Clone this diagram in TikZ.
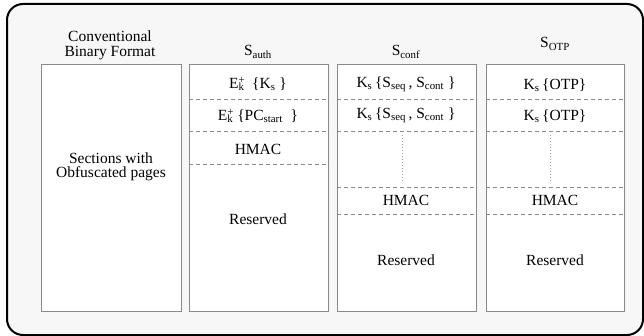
\documentclass[tikz,border=0pt]{standalone}
\usepackage{fontspec}
\setmainfont{Liberation Serif}[Ligatures=TeX]
\newfontfamily\labelface{Liberation Serif}
% E with stacked superscript + and subscript k
\newcommand{\encK}{E\rlap{\textsuperscript{+}}\textsubscript{k}}
\definecolor{framefill}{HTML}{F7F7F7}
\definecolor{boxline}{HTML}{8A8A8A}
\tikzset{
  lbl/.style={inner sep=0pt, font=\labelface\fontsize{15.5}{17}\selectfont},
  colbox/.style={draw=boxline, line width=1pt, fill=white, anchor=north west, inner sep=0pt},
  sep/.style={draw=boxline, line width=0.9pt, dash pattern=on 4pt off 3pt},
  gap/.style={draw=boxline!80, line width=0.8pt, dash pattern=on 1pt off 2pt},
}
\begin{document}
\begin{tikzpicture}[x=1pt, y=-1pt]
\useasboundingbox (0,0) rectangle (644,336);
% outer frame
\draw[line width=2pt, rounded corners=16pt, fill=framefill] (7,4) rectangle (643,335);

% column boxes
\node[colbox, minimum width=140pt, minimum height=247pt] (b0) at (41,64) {};
\node[colbox, minimum width=139pt, minimum height=247pt] (b1) at (189,64) {};
\node[colbox, minimum width=139pt, minimum height=247pt] (b2) at (337,64) {};
\node[colbox, minimum width=138pt, minimum height=247pt] (b3) at (486,64) {};

% column headings
\node[lbl] (h0a) at (110,36) {Conventional};
\node[lbl] (h0b) at (110,53) {Binary Format};
\node[lbl] (h1) at (258,52) {S\textsubscript{auth}};
\node[lbl] (h2) at (406,52) {S\textsubscript{conf}};
\node[lbl] (h3) at (555,44) {S\textsubscript{OTP}};

% conventional binary
\node[lbl, align=center] (c0) at (111,167) {Sections with\\[-3pt]Obfuscated pages};

% S_auth
\draw[sep] (b1.west |- 0,99) -- (b1.east |- 0,99);
\draw[sep] (b1.west |- 0,131) -- (b1.east |- 0,131);
\draw[sep] (b1.west |- 0,164) -- (b1.east |- 0,164);
\node[lbl] (a1) at (258,84) {\encK\ \ \{K\textsubscript{s} \}};
\node[lbl] (a2) at (258,116) {\encK\ \{PC\textsubscript{start}\ \ \}};
\node[lbl] (a3) at (258,149) {HMAC};
\node[lbl] (a4) at (258,219) {Reserved};

% S_conf
\draw[sep] (b2.west |- 0,99) -- (b2.east |- 0,99);
\draw[sep] (b2.west |- 0,131) -- (b2.east |- 0,131);
\draw[sep] (b2.west |- 0,187) -- (b2.east |- 0,187);
\draw[sep] (b2.west |- 0,214) -- (b2.east |- 0,214);
\node[lbl] (f1) at (406,84) {K\textsubscript{s}\,\{S\textsubscript{seq}\,, S\textsubscript{cont}\ \}};
\node[lbl] (f2) at (406,115) {K\textsubscript{s}\,\{S\textsubscript{seq}\,, S\textsubscript{cont}\ \}};
\coordinate (f3a) at (402,135);
\coordinate (f3b) at (402,183);
\draw[gap] (f3a) -- (f3b);
\node[lbl] (f4) at (406,200) {HMAC};
\node[lbl] (f5) at (406,260) {Reserved};

% S_OTP
\draw[sep] (b3.west |- 0,99) -- (b3.east |- 0,99);
\draw[sep] (b3.west |- 0,131) -- (b3.east |- 0,131);
\draw[sep] (b3.west |- 0,187) -- (b3.east |- 0,187);
\draw[sep] (b3.west |- 0,214) -- (b3.east |- 0,214);
\node[lbl] (o1) at (555,85) {K\textsubscript{s}\,\{OTP\}};
\node[lbl] (o2) at (555,116) {K\textsubscript{s}\,\{OTP\}};
\coordinate (o3a) at (550,135);
\coordinate (o3b) at (550,183);
\draw[gap] (o3a) -- (o3b);
\node[lbl] (o4) at (555,200) {HMAC};
\node[lbl] (o5) at (555,260) {Reserved};
\end{tikzpicture}
\end{document}
